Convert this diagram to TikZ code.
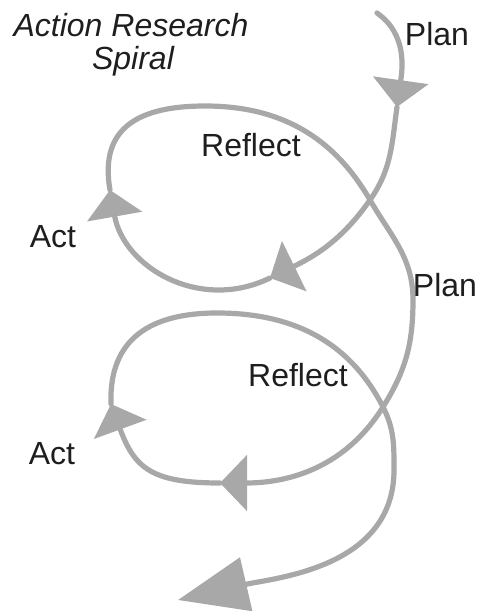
\documentclass[tikz,border=0pt]{standalone}
\usepackage{fontspec}
\setmainfont{Liberation Sans}
\usetikzlibrary{arrows.meta}
\definecolor{spiralgray}{RGB}{168,168,168}
\definecolor{labelblack}{RGB}{30,30,30}

\begin{document}
\begin{tikzpicture}[x=0.5pt, y=0.5pt,
        spiral/.style={draw=spiralgray, line width=2.6pt, line cap=round,
            -{Triangle[length=13.5pt, width=27.5pt]}},
        bigtip/.style={-{Triangle[length=35pt, width=27pt]}},
        lbl/.style={anchor=base, text=labelblack, font=\fontsize{16}{19}\selectfont},
        title/.style={lbl, font=\fontsize{16}{19}\selectfont\itshape}]
        \useasboundingbox (0,0) rectangle (481,611);

        % Points on the spiral
        \coordinate (start) at (377,598);
        \coordinate (tip1) at (397,504);
        \coordinate (cross1) at (370,411);
        \coordinate (tip2) at (270,333);
        \coordinate (tip3) at (110,421);
        \coordinate (top1) at (205,505);
        \coordinate (bend1) at (413,311);
        \coordinate (cross2) at (383,204);
        \coordinate (tip4) at (220,128);
        \coordinate (tip5) at (111,207);
        \coordinate (top2) at (217,298);
        \coordinate (bend2) at (394,141);
        \coordinate (tip6) at (178,11);

        % First turn
        \draw[spiral] (start) to[out=-35, in=82] (tip1);
        \draw[spiral] (tip1) to[out=-98, in=55] (cross1) to[out=-125, in=26] (tip2);
        \draw[spiral] (tip2) to[out=-154, in=-80, looseness=1.1] (tip3);
        \draw[spiral] (tip3) to[out=100, in=180, looseness=1.3] (top1)
            to[out=0, in=120] (cross1) to[out=-60, in=90] (bend1)
            to[out=-90, in=58] (cross2) to[out=-122, in=0] (tip4);

        % Second turn
        \draw[spiral] (tip4) to[out=180, in=-70, looseness=1.3] (tip5);
        \draw[spiral, bigtip] (tip5) to[out=92, in=180, looseness=1.2] (top2)
            to[out=0, in=117] (cross2) to[out=-63, in=90] (bend2)
            to[out=-90, in=13] (tip6);

        % Labels
        \node (title1) at (131,574) [title] {Action Research};
        \node (title2) at (133,541) [title] {Spiral};
        \node (plan1) at (437,565) [lbl] {Plan};
        \node (reflect1) at (251,454) [lbl] {Reflect};
        \node (act1) at (53,363) [lbl] {Act};
        \node (plan2) at (445,314) [lbl] {Plan};
        \node (reflect2) at (298,224) [lbl] {Reflect};
        \node (act2) at (52,146) [lbl] {Act};
    \end{tikzpicture}
\end{document}
